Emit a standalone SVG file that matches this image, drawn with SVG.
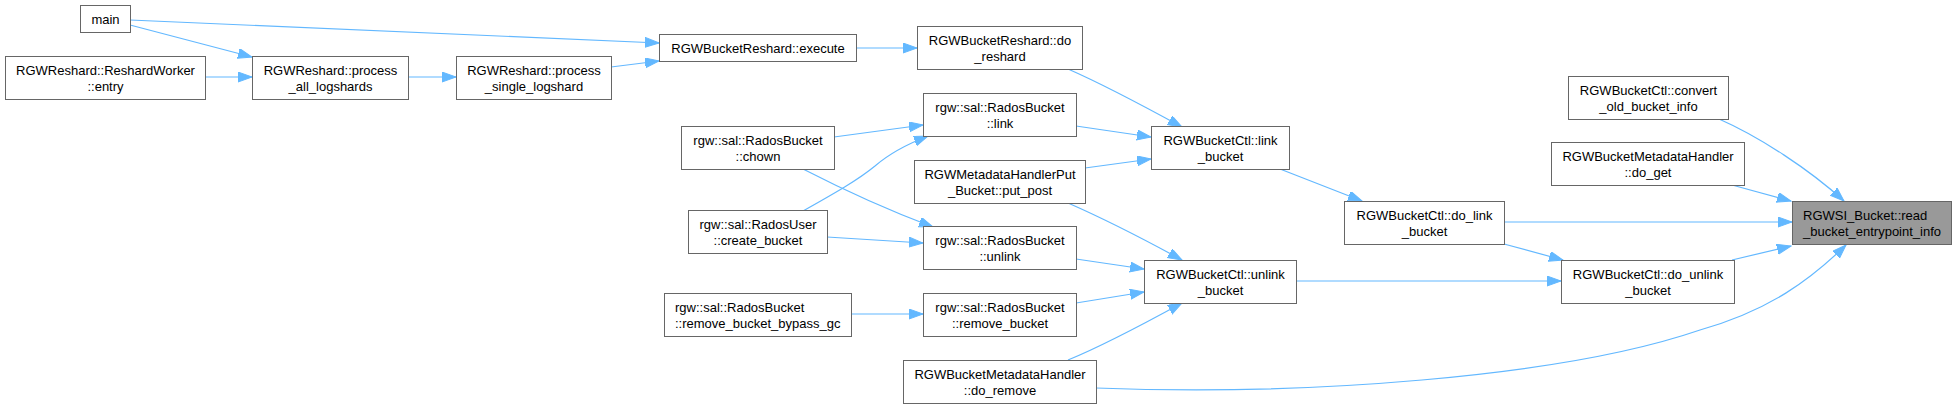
<svg xmlns="http://www.w3.org/2000/svg" width="1956" height="408" viewBox="0 0 1956 408">
<style>
.n rect{fill:#ffffff;stroke:#666666;stroke-width:1}
.n.focus rect{fill:#999999;stroke:#666666}
.n text{font-family:"Liberation Sans",Arial,sans-serif;font-size:13px;fill:#000000;text-anchor:middle}
.n text.l{text-anchor:start}
.e path{fill:none;stroke:#63b8ff;stroke-width:1.2}
</style>
<defs>
<marker id="arr" markerUnits="userSpaceOnUse" markerWidth="15" markerHeight="11" refX="14" refY="5" orient="auto">
<path d="M0,0 L14,5 L0,10 Z" fill="#63b8ff" stroke="#63b8ff" stroke-width="1"/>
</marker>
</defs>
<rect width="1956" height="408" fill="#ffffff"/>
<g id="edges" class="e">
<path marker-end="url(#arr)" d="M130,20 L659,43"/>
<path marker-end="url(#arr)" d="M130,25 L252,57"/>
<path marker-end="url(#arr)" d="M205,77 L252,77"/>
<path marker-end="url(#arr)" d="M408,77 L456,77"/>
<path marker-end="url(#arr)" d="M611,67 L659,61"/>
<path marker-end="url(#arr)" d="M856,48 L917,48"/>
<path marker-end="url(#arr)" d="M1068,69 C1100,83 1140,104 1182,127"/>
<path marker-end="url(#arr)" d="M1076,126 L1151,137"/>
<path marker-end="url(#arr)" d="M1085,168 L1151,159"/>
<path marker-end="url(#arr)" d="M834,137 L923,125"/>
<path marker-end="url(#arr)" d="M803,211 C835,193 858,180 875,166 C890,153 905,145 928,136"/>
<path marker-end="url(#arr)" d="M803,169 C840,188 885,209 933,227"/>
<path marker-end="url(#arr)" d="M827,237 L923,243"/>
<path marker-end="url(#arr)" d="M1068,203 C1100,217 1140,237 1182,260"/>
<path marker-end="url(#arr)" d="M1076,259 L1144,269"/>
<path marker-end="url(#arr)" d="M1076,303 L1144,292"/>
<path marker-end="url(#arr)" d="M1068,360 C1100,347 1140,326 1182,303"/>
<path marker-end="url(#arr)" d="M851,314 L923,314"/>
<path marker-end="url(#arr)" d="M1280,169 L1362,201"/>
<path marker-end="url(#arr)" d="M1504,222 L1792,222"/>
<path marker-end="url(#arr)" d="M1504,244 L1563,260"/>
<path marker-end="url(#arr)" d="M1296,281 L1561,281"/>
<path marker-end="url(#arr)" d="M1732,260 L1791,246"/>
<path marker-end="url(#arr)" d="M1732,185 L1791,201"/>
<path marker-end="url(#arr)" d="M1719,119 C1760,137 1810,170 1844,201"/>
<path marker-end="url(#arr)" d="M1096,388 C1300,396 1560,378 1700,330 C1770,310 1810,280 1846,245"/>
</g>
<g id="n_main" class="n"><rect x="80.5" y="5.5" width="50" height="27"/><text x="105.5" y="24">main</text></g>
<g id="n_entry" class="n"><rect x="5.5" y="56.5" width="200" height="43"/><text x="105.5" y="75">RGWReshard::ReshardWorker</text><text x="105.5" y="91">::entry</text></g>
<g id="n_process_all" class="n"><rect x="252.5" y="56.5" width="156" height="43"/><text x="330.5" y="75">RGWReshard::process</text><text x="330.5" y="91">_all_logshards</text></g>
<g id="n_process_single" class="n"><rect x="456.5" y="56.5" width="155" height="43"/><text x="534" y="75">RGWReshard::process</text><text x="534" y="91">_single_logshard</text></g>
<g id="n_execute" class="n"><rect x="659.5" y="34.5" width="197" height="27"/><text x="758" y="53">RGWBucketReshard::execute</text></g>
<g id="n_do_reshard" class="n"><rect x="917.5" y="26.5" width="165" height="43"/><text x="1000" y="45">RGWBucketReshard::do</text><text x="1000" y="61">_reshard</text></g>
<g id="n_rb_link" class="n"><rect x="923.5" y="93.5" width="153" height="43"/><text x="1000" y="112">rgw::sal::RadosBucket</text><text x="1000" y="128">::link</text></g>
<g id="n_chown" class="n"><rect x="681.5" y="126.5" width="153" height="43"/><text x="758" y="145">rgw::sal::RadosBucket</text><text x="758" y="161">::chown</text></g>
<g id="n_put_post" class="n"><rect x="914.5" y="160.5" width="171" height="43"/><text x="1000" y="179">RGWMetadataHandlerPut</text><text x="1000" y="195">_Bucket::put_post</text></g>
<g id="n_create_bucket" class="n"><rect x="688.5" y="210.5" width="139" height="43"/><text x="758" y="229">rgw::sal::RadosUser</text><text x="758" y="245">::create_bucket</text></g>
<g id="n_rb_unlink" class="n"><rect x="923.5" y="226.5" width="153" height="43"/><text x="1000" y="245">rgw::sal::RadosBucket</text><text x="1000" y="261">::unlink</text></g>
<g id="n_bypass" class="n"><rect x="664.5" y="293.5" width="187" height="43"/><text class="l" x="675" y="312">rgw::sal::RadosBucket</text><text class="l" x="675" y="328">::remove_bucket_bypass_gc</text></g>
<g id="n_remove_bucket" class="n"><rect x="923.5" y="293.5" width="153" height="43"/><text x="1000" y="312">rgw::sal::RadosBucket</text><text x="1000" y="328">::remove_bucket</text></g>
<g id="n_do_remove" class="n"><rect x="903.5" y="360.5" width="193" height="43"/><text x="1000" y="379">RGWBucketMetadataHandler</text><text x="1000" y="395">::do_remove</text></g>
<g id="n_link_bucket" class="n"><rect x="1151.5" y="126.5" width="138" height="43"/><text x="1220.5" y="145">RGWBucketCtl::link</text><text x="1220.5" y="161">_bucket</text></g>
<g id="n_unlink_bucket" class="n"><rect x="1144.5" y="260.5" width="152" height="43"/><text x="1220.5" y="279">RGWBucketCtl::unlink</text><text x="1220.5" y="295">_bucket</text></g>
<g id="n_do_link_bucket" class="n"><rect x="1344.5" y="201.5" width="160" height="43"/><text x="1424.5" y="220">RGWBucketCtl::do_link</text><text x="1424.5" y="236">_bucket</text></g>
<g id="n_convert" class="n"><rect x="1568.5" y="76.5" width="160" height="43"/><text x="1648.5" y="95">RGWBucketCtl::convert</text><text x="1648.5" y="111">_old_bucket_info</text></g>
<g id="n_do_get" class="n"><rect x="1551.5" y="142.5" width="193" height="43"/><text x="1648" y="161">RGWBucketMetadataHandler</text><text x="1648" y="177">::do_get</text></g>
<g id="n_do_unlink_bucket" class="n"><rect x="1561.5" y="260.5" width="173" height="43"/><text x="1648" y="279">RGWBucketCtl::do_unlink</text><text x="1648" y="295">_bucket</text></g>
<g id="n_read" class="n focus"><rect x="1792.5" y="201.5" width="159" height="43"/><text class="l" x="1803" y="220">RGWSI_Bucket::read</text><text class="l" x="1803" y="236">_bucket_entrypoint_info</text></g>
</svg>
